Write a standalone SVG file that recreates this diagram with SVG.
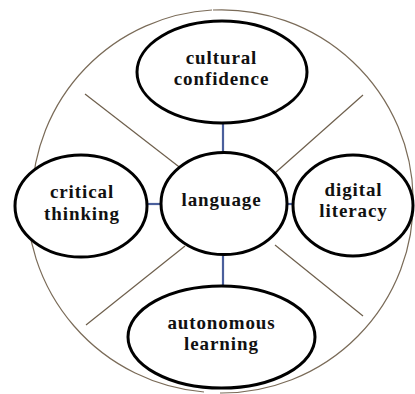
<svg xmlns="http://www.w3.org/2000/svg" width="415" height="394" viewBox="0 0 415 394">
<style>
.outer{fill:none;stroke:#7a6b58;stroke-width:1.2}
.div{fill:none;stroke:#6e5f4c;stroke-width:1.2}
.conn{fill:none;stroke:#4a5f9c;stroke-width:2.2}
.node ellipse{fill:#fff;stroke:#000;stroke-width:3}
.node text{font-family:'Liberation Serif',serif;font-weight:700;font-size:19px;letter-spacing:0.9px;fill:#111;text-anchor:middle}
</style>
<rect width="415" height="394" fill="#fff"/>
<g id="frame">
<path class="outer" d="M212,10 A191,191 0 0 0 32,197"/>
<path class="outer" d="M27,188 A193.5,193.5 0 0 0 204,392"/>
<path class="outer" d="M213,10 A191.6,191.6 0 1 1 220,393"/>
<line class="div" x1="85" y1="94" x2="187" y2="173"/>
<line class="div" x1="363" y1="95" x2="275" y2="173"/>
<line class="div" x1="185" y1="246" x2="86" y2="325"/>
<line class="div" x1="275" y1="245" x2="363" y2="316"/>
</g>
<g id="connectors">
<line class="conn" x1="223" y1="123" x2="223" y2="153"/>
<line class="conn" x1="223" y1="254" x2="223" y2="286"/>
<line class="conn" x1="147" y1="204" x2="161" y2="204"/>
<line class="conn" x1="287" y1="204" x2="293" y2="204"/>
</g>
<g id="cultural-confidence" class="node">
<ellipse cx="222" cy="72" rx="85" ry="51"/>
<text x="221.5" y="64">cultural</text>
<text x="221.5" y="85">confidence</text>
</g>
<g id="language" class="node">
<ellipse cx="224" cy="203.5" rx="63" ry="51"/>
<text x="221.5" y="206">language</text>
</g>
<g id="critical-thinking" class="node">
<ellipse cx="81" cy="206" rx="66" ry="51"/>
<text x="82" y="198">critical</text>
<text x="82" y="220">thinking</text>
</g>
<g id="digital-literacy" class="node">
<ellipse cx="353" cy="205.5" rx="60" ry="50.5"/>
<text x="353.5" y="196">digital</text>
<text x="353.5" y="217">literacy</text>
</g>
<g id="autonomous-learning" class="node">
<ellipse cx="221.5" cy="337" rx="93.5" ry="51"/>
<text x="221.5" y="329">autonomous</text>
<text x="221.5" y="350">learning</text>
</g>
</svg>
